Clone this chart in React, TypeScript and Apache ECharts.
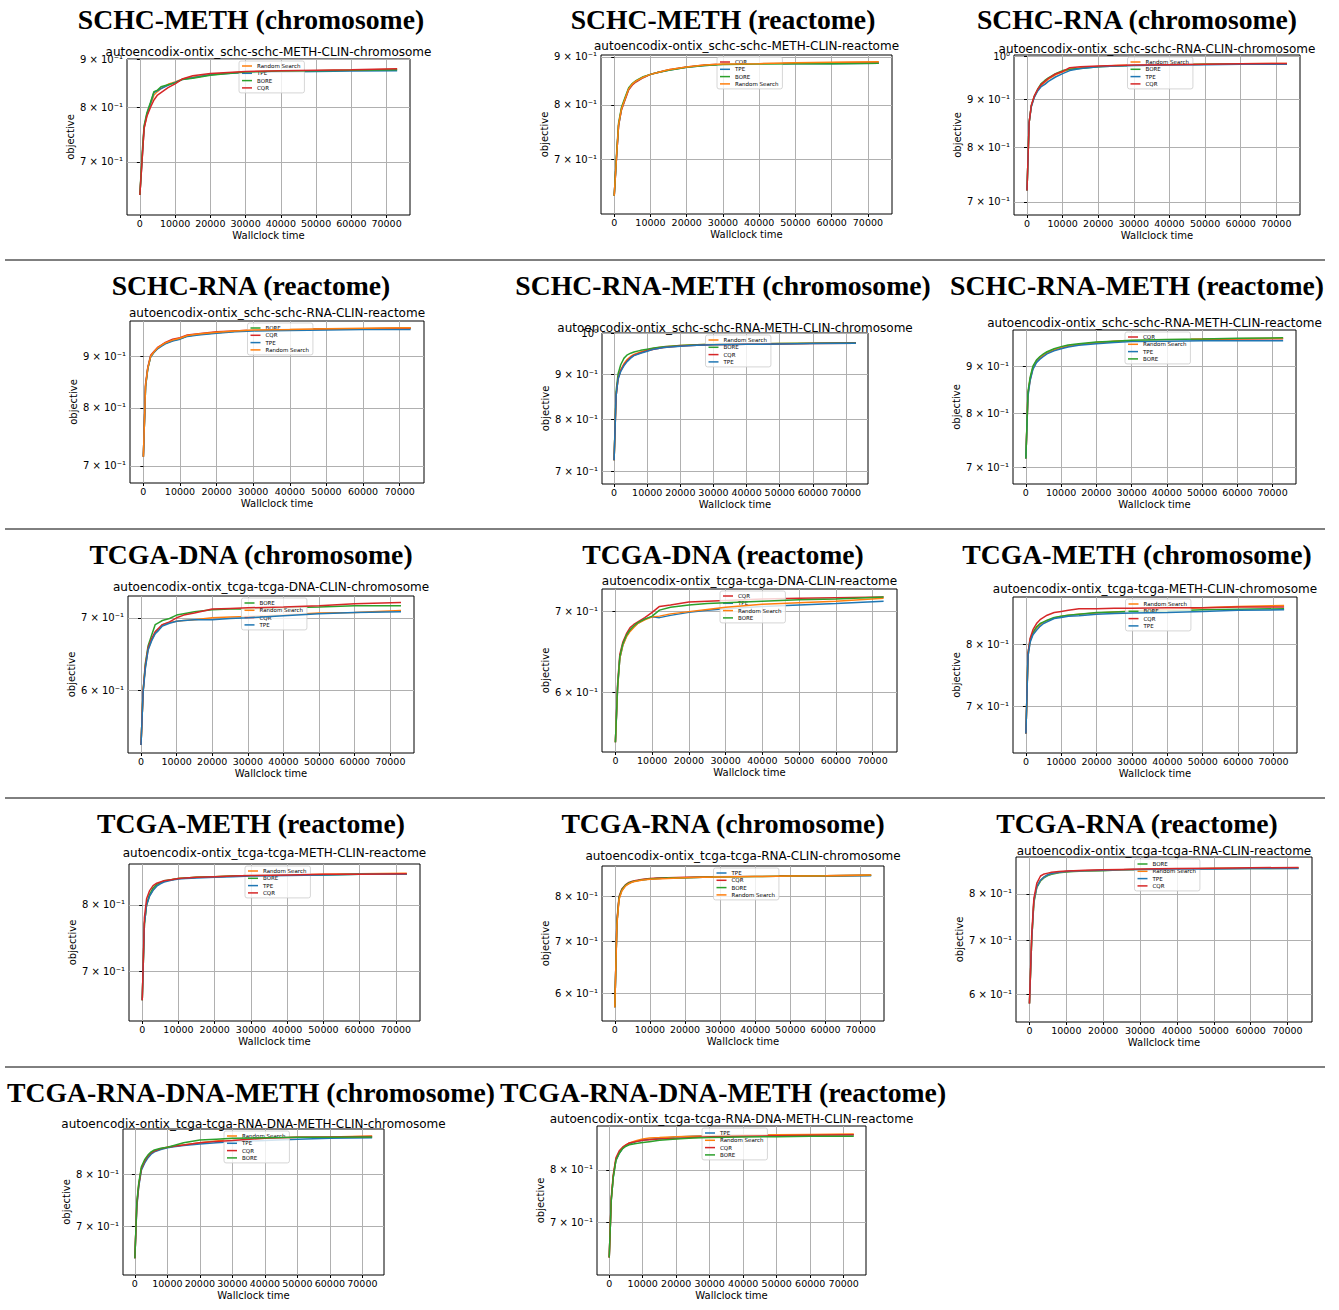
import React, { useEffect, useRef } from "react";
import * as echarts from "echarts";

// ---------- data ----------
const TIMES = [0, 600, 1200, 2000, 3000, 4000, 5000, 6000, 8000, 10000, 12000, 15000, 20000, 25000, 30000, 40000, 50000, 60000, 73000];
const X_TICKS = [0, 10000, 20000, 30000, 40000, 50000, 60000, 70000];

const SECTION_TITLES = [
  "SCHC-METH (chromosome)", "SCHC-METH (reactome)", "SCHC-RNA (chromosome)",
  "SCHC-RNA (reactome)", "SCHC-RNA-METH (chromosome)", "SCHC-RNA-METH (reactome)",
  "TCGA-DNA (chromosome)", "TCGA-DNA (reactome)", "TCGA-METH (chromosome)",
  "TCGA-METH (reactome)", "TCGA-RNA (chromosome)", "TCGA-RNA (reactome)",
  "TCGA-RNA-DNA-METH (chromosome)", "TCGA-RNA-DNA-METH (reactome)",
];
const SUBTITLES = [
  "autoencodix-ontix_schc-schc-METH-CLIN-chromosome", "autoencodix-ontix_schc-schc-METH-CLIN-reactome", "autoencodix-ontix_schc-schc-RNA-CLIN-chromosome",
  "autoencodix-ontix_schc-schc-RNA-CLIN-reactome", "autoencodix-ontix_schc-schc-RNA-METH-CLIN-chromosome", "autoencodix-ontix_schc-schc-RNA-METH-CLIN-reactome",
  "autoencodix-ontix_tcga-tcga-DNA-CLIN-chromosome", "autoencodix-ontix_tcga-tcga-DNA-CLIN-reactome", "autoencodix-ontix_tcga-tcga-METH-CLIN-chromosome",
  "autoencodix-ontix_tcga-tcga-METH-CLIN-reactome", "autoencodix-ontix_tcga-tcga-RNA-CLIN-chromosome", "autoencodix-ontix_tcga-tcga-RNA-CLIN-reactome",
  "autoencodix-ontix_tcga-tcga-RNA-DNA-METH-CLIN-chromosome", "autoencodix-ontix_tcga-tcga-RNA-DNA-METH-CLIN-reactome",
];
const LEGEND_ORDERS = [
  ["Random Search", "TPE", "BORE", "CQR"],
  ["CQR", "TPE", "BORE", "Random Search"],
  ["Random Search", "BORE", "TPE", "CQR"],
  ["BORE", "CQR", "TPE", "Random Search"],
  ["Random Search", "BORE", "CQR", "TPE"],
  ["CQR", "Random Search", "TPE", "BORE"],
  ["BORE", "Random Search", "CQR", "TPE"],
  ["CQR", "TPE", "Random Search", "BORE"],
  ["Random Search", "BORE", "CQR", "TPE"],
  ["Random Search", "BORE", "TPE", "CQR"],
  ["TPE", "CQR", "BORE", "Random Search"],
  ["BORE", "Random Search", "TPE", "CQR"],
  ["Random Search", "TPE", "CQR", "BORE"],
  ["TPE", "Random Search", "CQR", "BORE"],
];
const Y_RANGES = [
  [0.614, 0.9015], [0.612, 0.904], [0.678, 1.0025],
  [0.673, 0.977], [0.677, 1.001], [0.671, 0.985],
  [0.526, 0.733], [0.535, 0.731], [0.633, 0.885],
  [0.633, 0.869], [0.552, 0.876], [0.555, 0.889],
  [0.618, 0.898], [0.612, 0.895],
];
const Y_TICKS = [
  [0.7, 0.8, 0.9], [0.7, 0.8, 0.9], [0.7, 0.8, 0.9, 1.0],
  [0.7, 0.8, 0.9], [0.7, 0.8, 0.9, 1.0], [0.7, 0.8, 0.9],
  [0.6, 0.7], [0.6, 0.7], [0.7, 0.8],
  [0.7, 0.8], [0.6, 0.7, 0.8], [0.6, 0.7, 0.8],
  [0.7, 0.8], [0.7, 0.8],
];

const SCHC_METH_CHR = {
  "Random Search": [0.645, 0.70, 0.76, 0.785, 0.805, 0.825, 0.832, 0.838, 0.847, 0.852, 0.858, 0.862, 0.868, 0.871, 0.873, 0.875, 0.876, 0.877, 0.879],
  TPE: [0.645, 0.70, 0.762, 0.787, 0.808, 0.83, 0.834, 0.838, 0.845, 0.851, 0.857, 0.861, 0.867, 0.870, 0.872, 0.873, 0.874, 0.875, 0.876],
  BORE: [0.645, 0.71, 0.765, 0.79, 0.81, 0.832, 0.835, 0.842, 0.846, 0.85, 0.857, 0.86, 0.866, 0.870, 0.873, 0.875, 0.876, 0.877, 0.878],
  CQR: [0.645, 0.70, 0.76, 0.783, 0.80, 0.815, 0.825, 0.83, 0.84, 0.848, 0.858, 0.865, 0.87, 0.872, 0.874, 0.876, 0.877, 0.878, 0.880],
};
const SCHC_METH_REA = {
  CQR: [0.64, 0.70, 0.76, 0.79, 0.81, 0.83, 0.84, 0.846, 0.855, 0.862, 0.866, 0.872, 0.878, 0.882, 0.884, 0.885, 0.886, 0.887, 0.888],
  TPE: [0.64, 0.70, 0.76, 0.792, 0.812, 0.832, 0.842, 0.848, 0.856, 0.862, 0.866, 0.871, 0.877, 0.881, 0.883, 0.884, 0.885, 0.885, 0.886],
  BORE: [0.64, 0.705, 0.765, 0.795, 0.815, 0.834, 0.843, 0.849, 0.857, 0.862, 0.866, 0.871, 0.877, 0.881, 0.883, 0.884, 0.885, 0.885, 0.886],
  "Random Search": [0.64, 0.70, 0.762, 0.792, 0.812, 0.832, 0.842, 0.848, 0.856, 0.862, 0.866, 0.872, 0.878, 0.882, 0.884, 0.885, 0.887, 0.888, 0.889],
};
const SCHC_RNA_CHR = {
  "Random Search": [0.72, 0.85, 0.885, 0.905, 0.92, 0.93, 0.938, 0.945, 0.955, 0.962, 0.968, 0.972, 0.975, 0.977, 0.978, 0.979, 0.980, 0.981, 0.982],
  BORE: [0.72, 0.85, 0.885, 0.905, 0.922, 0.935, 0.942, 0.948, 0.958, 0.965, 0.968, 0.97, 0.974, 0.976, 0.977, 0.979, 0.980, 0.980, 0.981],
  TPE: [0.72, 0.85, 0.883, 0.903, 0.918, 0.928, 0.933, 0.94, 0.95, 0.958, 0.965, 0.97, 0.974, 0.976, 0.977, 0.978, 0.979, 0.980, 0.980],
  CQR: [0.72, 0.85, 0.886, 0.906, 0.922, 0.933, 0.94, 0.947, 0.957, 0.963, 0.972, 0.974, 0.976, 0.977, 0.978, 0.979, 0.980, 0.981, 0.982],
};
const SCHC_RNA_REA = {
  BORE: [0.715, 0.84, 0.875, 0.9, 0.91, 0.918, 0.924, 0.928, 0.934, 0.938, 0.944, 0.947, 0.951, 0.954, 0.956, 0.958, 0.959, 0.960, 0.961],
  CQR: [0.715, 0.845, 0.878, 0.903, 0.912, 0.92, 0.925, 0.93, 0.937, 0.94, 0.946, 0.949, 0.953, 0.955, 0.957, 0.958, 0.959, 0.960, 0.961],
  TPE: [0.715, 0.84, 0.875, 0.9, 0.91, 0.917, 0.922, 0.927, 0.933, 0.937, 0.943, 0.946, 0.95, 0.953, 0.955, 0.956, 0.957, 0.958, 0.958],
  "Random Search": [0.715, 0.842, 0.876, 0.901, 0.911, 0.919, 0.924, 0.929, 0.935, 0.939, 0.945, 0.948, 0.952, 0.955, 0.957, 0.958, 0.960, 0.961, 0.962],
};
const SCHC_RNA_METH_CHR = {
  "Random Search": [0.72, 0.85, 0.89, 0.91, 0.925, 0.935, 0.942, 0.947, 0.953, 0.958, 0.962, 0.966, 0.969, 0.971, 0.972, 0.973, 0.974, 0.975, 0.976],
  BORE: [0.72, 0.86, 0.9, 0.922, 0.938, 0.946, 0.95, 0.953, 0.957, 0.96, 0.963, 0.966, 0.969, 0.971, 0.972, 0.973, 0.974, 0.975, 0.976],
  CQR: [0.72, 0.85, 0.89, 0.908, 0.922, 0.932, 0.94, 0.945, 0.951, 0.956, 0.96, 0.964, 0.968, 0.97, 0.971, 0.972, 0.973, 0.974, 0.975],
  TPE: [0.72, 0.85, 0.888, 0.906, 0.92, 0.93, 0.938, 0.944, 0.95, 0.955, 0.96, 0.964, 0.967, 0.97, 0.971, 0.972, 0.973, 0.974, 0.975],
};
const SCHC_RNA_METH_REA = {
  CQR: [0.715, 0.84, 0.87, 0.895, 0.91, 0.918, 0.925, 0.93, 0.937, 0.942, 0.946, 0.95, 0.954, 0.957, 0.959, 0.961, 0.962, 0.963, 0.964],
  "Random Search": [0.715, 0.84, 0.872, 0.897, 0.912, 0.92, 0.926, 0.931, 0.938, 0.943, 0.947, 0.95, 0.955, 0.958, 0.96, 0.962, 0.963, 0.964, 0.965],
  TPE: [0.715, 0.835, 0.868, 0.893, 0.908, 0.916, 0.922, 0.928, 0.935, 0.94, 0.944, 0.948, 0.952, 0.955, 0.957, 0.958, 0.959, 0.959, 0.959],
  BORE: [0.715, 0.845, 0.875, 0.9, 0.914, 0.922, 0.928, 0.933, 0.94, 0.945, 0.949, 0.952, 0.956, 0.958, 0.96, 0.962, 0.963, 0.965, 0.966],
};
const TCGA_DNA_CHR = {
  BORE: [0.535, 0.60, 0.635, 0.66, 0.675, 0.69, 0.693, 0.696, 0.699, 0.704, 0.706, 0.709, 0.712, 0.713, 0.713, 0.715, 0.716, 0.718, 0.718],
  "Random Search": [0.535, 0.60, 0.63, 0.655, 0.668, 0.678, 0.683, 0.69, 0.693, 0.695, 0.696, 0.697, 0.700, 0.701, 0.702, 0.704, 0.707, 0.708, 0.711],
  CQR: [0.535, 0.60, 0.632, 0.657, 0.67, 0.68, 0.685, 0.69, 0.694, 0.70, 0.704, 0.707, 0.713, 0.714, 0.715, 0.716, 0.718, 0.721, 0.723],
  TPE: [0.535, 0.598, 0.628, 0.654, 0.667, 0.677, 0.682, 0.688, 0.692, 0.695, 0.696, 0.697, 0.697, 0.699, 0.700, 0.703, 0.706, 0.708, 0.709],
};
const TCGA_DNA_REA = {
  CQR: [0.545, 0.61, 0.645, 0.66, 0.671, 0.679, 0.683, 0.686, 0.692, 0.699, 0.707, 0.709, 0.713, 0.714, 0.715, 0.717, 0.718, 0.719, 0.720],
  TPE: [0.545, 0.605, 0.64, 0.656, 0.668, 0.675, 0.68, 0.684, 0.69, 0.693, 0.692, 0.695, 0.699, 0.702, 0.704, 0.707, 0.709, 0.711, 0.714],
  "Random Search": [0.545, 0.605, 0.64, 0.656, 0.667, 0.674, 0.679, 0.684, 0.689, 0.693, 0.694, 0.697, 0.700, 0.703, 0.706, 0.710, 0.712, 0.714, 0.718],
  BORE: [0.545, 0.607, 0.642, 0.658, 0.669, 0.676, 0.681, 0.685, 0.69, 0.694, 0.702, 0.706, 0.709, 0.711, 0.712, 0.714, 0.716, 0.717, 0.720],
};
const TCGA_METH_CHR = {
  "Random Search": [0.66, 0.78, 0.805, 0.818, 0.828, 0.834, 0.838, 0.841, 0.846, 0.849, 0.851, 0.853, 0.855, 0.857, 0.859, 0.862, 0.865, 0.867, 0.869],
  BORE: [0.66, 0.785, 0.808, 0.82, 0.83, 0.836, 0.839, 0.842, 0.847, 0.849, 0.851, 0.853, 0.856, 0.857, 0.858, 0.859, 0.861, 0.862, 0.863],
  CQR: [0.66, 0.785, 0.81, 0.825, 0.836, 0.843, 0.847, 0.851, 0.856, 0.858, 0.86, 0.863, 0.863, 0.864, 0.864, 0.865, 0.865, 0.866, 0.866],
  TPE: [0.66, 0.78, 0.803, 0.816, 0.824, 0.831, 0.836, 0.839, 0.845, 0.847, 0.849, 0.85, 0.853, 0.854, 0.855, 0.856, 0.858, 0.860, 0.861],
};
const TCGA_METH_REA = {
  "Random Search": [0.66, 0.77, 0.80, 0.815, 0.825, 0.832, 0.836, 0.839, 0.842, 0.844, 0.845, 0.846, 0.847, 0.848, 0.849, 0.850, 0.851, 0.852, 0.853],
  BORE: [0.66, 0.77, 0.80, 0.817, 0.828, 0.834, 0.837, 0.84, 0.842, 0.844, 0.845, 0.846, 0.847, 0.848, 0.849, 0.850, 0.850, 0.851, 0.851],
  TPE: [0.66, 0.77, 0.80, 0.814, 0.824, 0.831, 0.835, 0.838, 0.841, 0.843, 0.844, 0.845, 0.846, 0.847, 0.848, 0.849, 0.850, 0.851, 0.851],
  CQR: [0.66, 0.78, 0.81, 0.823, 0.832, 0.836, 0.838, 0.84, 0.842, 0.844, 0.845, 0.846, 0.847, 0.848, 0.849, 0.850, 0.851, 0.851, 0.852],
};
const TCGA_RNA_CHR = {
  TPE: [0.575, 0.74, 0.795, 0.815, 0.826, 0.832, 0.836, 0.838, 0.841, 0.843, 0.844, 0.845, 0.846, 0.847, 0.848, 0.849, 0.850, 0.850, 0.851],
  CQR: [0.575, 0.745, 0.80, 0.818, 0.828, 0.834, 0.837, 0.839, 0.842, 0.844, 0.845, 0.846, 0.847, 0.848, 0.849, 0.850, 0.851, 0.851, 0.852],
  BORE: [0.575, 0.74, 0.797, 0.816, 0.827, 0.833, 0.836, 0.838, 0.841, 0.843, 0.844, 0.845, 0.846, 0.847, 0.848, 0.849, 0.850, 0.851, 0.852],
  "Random Search": [0.575, 0.735, 0.793, 0.813, 0.825, 0.831, 0.835, 0.837, 0.840, 0.842, 0.843, 0.844, 0.846, 0.847, 0.848, 0.849, 0.850, 0.851, 0.853],
};
const TCGA_RNA_REA = {
  BORE: [0.585, 0.70, 0.78, 0.815, 0.83, 0.838, 0.843, 0.846, 0.85, 0.852, 0.853, 0.854, 0.855, 0.857, 0.858, 0.859, 0.860, 0.860, 0.861],
  "Random Search": [0.585, 0.70, 0.785, 0.818, 0.832, 0.84, 0.845, 0.848, 0.851, 0.853, 0.854, 0.855, 0.856, 0.857, 0.858, 0.859, 0.860, 0.861, 0.862],
  TPE: [0.585, 0.70, 0.785, 0.817, 0.832, 0.84, 0.845, 0.848, 0.851, 0.853, 0.854, 0.855, 0.856, 0.857, 0.858, 0.859, 0.859, 0.860, 0.860],
  CQR: [0.585, 0.71, 0.79, 0.825, 0.842, 0.847, 0.849, 0.851, 0.853, 0.854, 0.855, 0.856, 0.857, 0.858, 0.859, 0.860, 0.861, 0.862, 0.863],
};
const TCGA_RNA_DNA_METH_CHR = {
  "Random Search": [0.645, 0.74, 0.78, 0.81, 0.825, 0.836, 0.843, 0.848, 0.853, 0.857, 0.859, 0.862, 0.867, 0.871, 0.874, 0.877, 0.879, 0.880, 0.882],
  TPE: [0.645, 0.735, 0.775, 0.808, 0.823, 0.834, 0.842, 0.847, 0.852, 0.856, 0.858, 0.861, 0.864, 0.867, 0.869, 0.872, 0.875, 0.877, 0.878],
  CQR: [0.645, 0.74, 0.778, 0.812, 0.827, 0.838, 0.845, 0.849, 0.854, 0.857, 0.859, 0.862, 0.867, 0.870, 0.872, 0.877, 0.879, 0.880, 0.881],
  BORE: [0.645, 0.745, 0.782, 0.815, 0.83, 0.84, 0.847, 0.851, 0.855, 0.857, 0.861, 0.867, 0.873, 0.875, 0.877, 0.878, 0.879, 0.879, 0.880],
};
const TCGA_RNA_DNA_METH_REA = {
  TPE: [0.64, 0.74, 0.785, 0.82, 0.835, 0.845, 0.851, 0.855, 0.86, 0.863, 0.865, 0.867, 0.870, 0.872, 0.873, 0.874, 0.874, 0.875, 0.875],
  "Random Search": [0.64, 0.74, 0.787, 0.822, 0.837, 0.847, 0.853, 0.857, 0.862, 0.866, 0.868, 0.869, 0.871, 0.872, 0.873, 0.874, 0.875, 0.876, 0.877],
  CQR: [0.64, 0.745, 0.79, 0.825, 0.84, 0.848, 0.853, 0.857, 0.86, 0.863, 0.864, 0.866, 0.867, 0.869, 0.871, 0.872, 0.873, 0.874, 0.875],
  BORE: [0.64, 0.74, 0.785, 0.82, 0.835, 0.845, 0.85, 0.853, 0.856, 0.858, 0.86, 0.863, 0.866, 0.868, 0.869, 0.870, 0.871, 0.872, 0.872],
};

const PANEL_DATA = [
  SCHC_METH_CHR, SCHC_METH_REA, SCHC_RNA_CHR,
  SCHC_RNA_REA, SCHC_RNA_METH_CHR, SCHC_RNA_METH_REA,
  TCGA_DNA_CHR, TCGA_DNA_REA, TCGA_METH_CHR,
  TCGA_METH_REA, TCGA_RNA_CHR, TCGA_RNA_REA,
  TCGA_RNA_DNA_METH_CHR, TCGA_RNA_DNA_METH_REA,
];

// ---------- layout / style ----------
const LAYOUT = [
  [127, 59, 283, 156, 52], [601, 55, 291, 159, 46], [1014, 55, 286, 160, 49],
  [130, 321, 294, 162, 313], [602, 333, 266, 151, 328], [1013, 330, 283, 154, 323],
  [128, 596, 286, 157, 587], [602, 589, 295, 163, 581], [1013, 597, 284, 156, 589],
  [129, 864, 291, 157, 853], [602, 866, 282, 155, 856], [1016, 857, 296, 165, 851],
  [123, 1129, 261, 146, 1124], [597, 1126, 269, 149, 1119],
];
const COL_CENTERS = [251, 723, 1137];
const ROW_TITLE_Y = [19, 285, 554, 823, 1092];
const SEPARATORS_Y = [260, 529, 798, 1067];
const X_MIN = -3650;
const X_MAX = 76650;
const COLORS: Record<string, string> = {
  "Random Search": "#ff7f0e",
  TPE: "#1f77b4",
  BORE: "#2ca02c",
  CQR: "#d62728",
};
const SANS = "DejaVu Sans";
const SERIF = "Liberation Serif";

const fmtY = (v: number) => {
  const m = Math.round(v * 10);
  return m >= 10 ? "10⁰" : `${m} × 10⁻¹`;
};

function buildOption() {
  const grid: any[] = [];
  const xAxis: any[] = [];
  const yAxis: any[] = [];
  const series: any[] = [];
  const legend: any[] = [];
  const graphic: any[] = [];

  PANEL_DATA.forEach((pd: any, i) => {
    const [l, t, w, h, subY] = LAYOUT[i];
    const cx = l + w / 2;
    grid.push({ left: l, top: t, width: w, height: h, show: true, borderColor: "#000", borderWidth: 1, backgroundColor: "transparent" });
    xAxis.push({
      type: "value", gridIndex: i, min: X_MIN, max: X_MAX,
      axisLine: { show: false },
      axisTick: { show: true, length: 3, lineStyle: { color: "#000" }, customValues: X_TICKS },
      axisLabel: { customValues: X_TICKS, fontSize: 9.5, color: "#000", margin: 3, fontFamily: SANS, formatter: (v: number) => String(Math.round(v)) },
      splitLine: { show: true, lineStyle: { color: "#b0b0b0", width: 1 } },
      name: "Wallclock time", nameLocation: "middle", nameGap: 15,
      nameTextStyle: { fontSize: 10, color: "#000", fontFamily: SANS },
    });
    yAxis.push({
      type: "log", logBase: 10, gridIndex: i, min: Y_RANGES[i][0], max: Y_RANGES[i][1],
      axisLine: { show: false },
      axisTick: { show: true, length: 3, lineStyle: { color: "#000" }, customValues: Y_TICKS[i] },
      axisLabel: { customValues: Y_TICKS[i], fontSize: 10, color: "#000", margin: 4, fontFamily: SANS, formatter: fmtY },
      splitLine: { show: true, lineStyle: { color: "#b0b0b0", width: 1 } },
      minorTick: { show: false }, minorSplitLine: { show: false },
      name: "objective", nameLocation: "middle", nameGap: 47, nameRotate: 90,
      nameTextStyle: { fontSize: 10, color: "#000", fontFamily: SANS },
    });
    LEGEND_ORDERS[i].forEach((name, k) => {
      series.push({
        type: "line", name, xAxisIndex: i, yAxisIndex: i,
        data: TIMES.map((tt, j) => [tt, pd[name][j]]),
        showSymbol: false, symbol: "none",
        lineStyle: { width: 1.5, color: COLORS[name] },
        itemStyle: { color: COLORS[name] },
        z: 2 + k,
      });
    });
    legend.push({
      data: LEGEND_ORDERS[i], orient: "vertical", align: "left",
      left: cx - 29.5, top: t + 2,
      icon: "rect", itemWidth: 10, itemHeight: 1.5, itemGap: 1.3,
      textStyle: { fontSize: 5.5, lineHeight: 6, color: "#000", fontFamily: SANS },
      padding: [2, 4, 2, 3], backgroundColor: "rgba(255,255,255,0.8)",
      borderColor: "#cccccc", borderWidth: 0.8, borderRadius: 2,
      selectedMode: false,
    });
    graphic.push({
      type: "text", x: cx, y: subY, z: 100,
      style: { text: SUBTITLES[i], font: `12px '${SANS}'`, fill: "#000", align: "center", textAlign: "center", verticalAlign: "middle", textVerticalAlign: "middle" },
    });
    const row = Math.floor(i / 3);
    const col = i % 3;
    graphic.push({
      type: "text", x: COL_CENTERS[col], y: ROW_TITLE_Y[row], z: 100,
      style: { text: SECTION_TITLES[i], font: `bold 27.7px '${SERIF}'`, fill: "#000", align: "center", textAlign: "center", verticalAlign: "middle", textVerticalAlign: "middle" },
    });
  });

  SEPARATORS_Y.forEach((y) => {
    graphic.push({ type: "line", z: 100, shape: { x1: 5, y1: y, x2: 1325, y2: y }, style: { stroke: "#000", lineWidth: 1 } });
  });

  return { animation: false, backgroundColor: "#fff", grid, xAxis, yAxis, series, legend, graphic };
}

export default function App() {
  const ref = useRef<HTMLDivElement>(null);
  useEffect(() => {
    document.body.style.margin = "0";
    if (!ref.current) return;
    const chart = echarts.init(ref.current, undefined, { renderer: "svg" });
    chart.setOption(buildOption() as any);
    return () => chart.dispose();
  }, []);
  return <div ref={ref} style={{ width: 1339, height: 1310 }} />;
}
